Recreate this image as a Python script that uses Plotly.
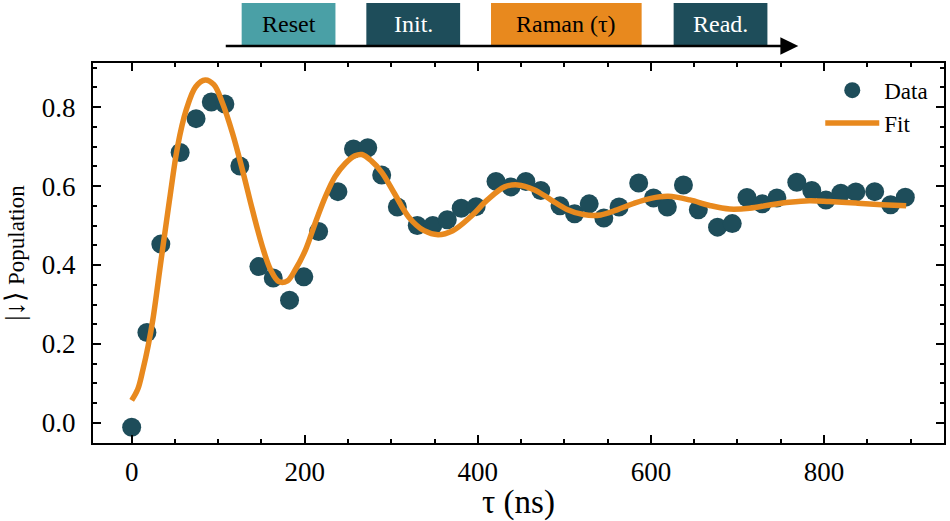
import plotly.graph_objects as go

# ---- data ----
tau_ns = [0, 17.6, 33.7, 56, 74.4, 92, 107.7, 125, 147, 163.6, 182.4, 198.9, 216, 238.3,
          256.3, 272.8, 288.9, 307, 330, 348, 364.7, 380.8, 398, 421, 438.3, 455.5, 472.8,
          495, 511.8, 528.7, 545.6, 563.2, 585.9, 603, 619, 637.6, 654.8, 677, 694, 711,
          728.7, 745.6, 768.6, 785.9, 802.3, 819.5, 836.8, 858.6, 877, 894]
population = [-0.011, 0.229, 0.453, 0.685, 0.771, 0.813, 0.808, 0.651, 0.396, 0.367, 0.311,
              0.370, 0.485, 0.586, 0.694, 0.697, 0.628, 0.547, 0.500, 0.500, 0.515, 0.544,
              0.548, 0.612, 0.598, 0.612, 0.589, 0.550, 0.530, 0.555, 0.519, 0.547, 0.608,
              0.570, 0.547, 0.603, 0.540, 0.496, 0.505, 0.571, 0.555, 0.570, 0.610, 0.589,
              0.565, 0.582, 0.585, 0.586, 0.553, 0.572]

fit_tau = [0, 7, 13, 19, 24.5, 34, 43.7, 53, 63, 74, 85, 95, 105, 116.5, 128, 139.5, 151,
           160.5, 170, 180, 189, 201, 212, 224, 235, 247, 258, 266, 277, 289, 304, 320, 338,
           354, 371, 392, 411, 431, 446, 465, 484, 503, 522, 542, 561, 580, 600, 620, 645,
           668, 691, 714, 737, 760, 783, 806, 837, 867, 895]
fit_pop = [0.057, 0.085, 0.135, 0.195, 0.262, 0.413, 0.565, 0.700, 0.793, 0.852, 0.869,
           0.857, 0.810, 0.734, 0.641, 0.540, 0.447, 0.388, 0.358, 0.360, 0.388, 0.439,
           0.506, 0.574, 0.624, 0.658, 0.677, 0.680, 0.664, 0.635, 0.580, 0.522, 0.487,
           0.477, 0.487, 0.523, 0.565, 0.598, 0.603, 0.591, 0.566, 0.541, 0.528, 0.527,
           0.540, 0.556, 0.569, 0.574, 0.565, 0.551, 0.542, 0.544, 0.552, 0.559, 0.563,
           0.561, 0.557, 0.553, 0.550]

x_ticks = [0, 200, 400, 600, 800]
y_ticks = [0.0, 0.2, 0.4, 0.6, 0.8]

seq_labels = ["Reset", "Init.", "Raman (τ)", "Read."]
seq_x0 = [0.1747, 0.3212, 0.4677, 0.6823]
seq_x1 = [0.2849, 0.4314, 0.6447, 0.7925]
seq_fill = ["#4aa0a6", "#1e4d5a", "#e8891e", "#1e4d5a"]
seq_text = ["black", "white", "black", "white"]

DARK = "#1e4d5a"
ORANGE = "#e8891e"
FONT = "Liberation Serif"

fig = go.Figure()
fig.add_trace(go.Scatter(x=tau_ns, y=population, mode="markers", name="Data",
                         marker=dict(color=DARK, size=19, line=dict(width=0))))
fig.add_trace(go.Scatter(x=fit_tau, y=fit_pop, mode="lines", name="Fit",
                         line=dict(color=ORANGE, width=5.5, shape="spline", smoothing=1.0)))

# pulse sequence diagram above plot
by0, by1 = 1.047, 1.158
for lab, x0, x1, fc, tc in zip(seq_labels, seq_x0, seq_x1, seq_fill, seq_text):
    fig.add_shape(type="rect", xref="paper", yref="paper", x0=x0, x1=x1, y0=by0, y1=by1,
                  fillcolor=fc, line=dict(width=0), layer="above")
    fig.add_annotation(xref="paper", yref="paper", x=(x0 + x1) / 2, y=(by0 + by1) / 2,
                       xanchor="center", yanchor="middle",
                       text=lab, showarrow=False, font=dict(family=FONT, size=24, color=tc))
fig.add_shape(type="line", xref="paper", yref="paper", x0=0.156, x1=0.815, y0=1.045, y1=1.045,
              line=dict(color="black", width=2.5), layer="above")
fig.add_shape(type="path", xref="paper", yref="paper",
              path="M 0.8077,1.068 L 0.8288,1.045 L 0.8077,1.022 Z",
              fillcolor="black", line=dict(width=0), layer="above")

axis_common = dict(showline=True, linecolor="black", linewidth=2, mirror="allticks",
                   ticks="inside", ticklen=8, tickwidth=2, tickcolor="black",
                   showgrid=False, zeroline=False,
                   tickfont=dict(family=FONT, size=27, color="black"))

fig.update_xaxes(range=[-44.7, 938.7], tickvals=x_ticks,
                 ticktext=[str(v) for v in x_ticks],
                 minor=dict(ticks="inside", ticklen=4, tickwidth=1.5, dtick=50, tick0=0,
                            tickcolor="black", showgrid=False),
                 ticklabelstandoff=4,
                 title=dict(text="τ (ns)", font=dict(family=FONT, size=33, color="black"),
                            standoff=6),
                 **axis_common)
fig.update_yaxes(range=[-0.051, 0.912], tickvals=y_ticks,
                 ticktext=[f"{v:.1f}" for v in y_ticks],
                 minor=dict(ticks="inside", ticklen=4, tickwidth=1.5, dtick=0.05, tick0=0,
                            tickcolor="black", showgrid=False),
                 ticklabelstandoff=10,
                 title=dict(text="<span style='font-size:27px'>|↓⟩</span> Population",
                            font=dict(family=FONT, size=23, color="black"),
                            standoff=15),
                 **axis_common)

fig.update_layout(
    width=950, height=521,
    margin=dict(l=93, r=4, t=63, b=78),
    paper_bgcolor="white", plot_bgcolor="white",
    showlegend=True,
    legend=dict(x=0.8546, y=0.985, xanchor="left", yanchor="top",
                bgcolor="rgba(0,0,0,0)", font=dict(family=FONT, size=23, color="black"),
                itemwidth=54, tracegroupgap=0),
)

fig.write_html("out.html")
